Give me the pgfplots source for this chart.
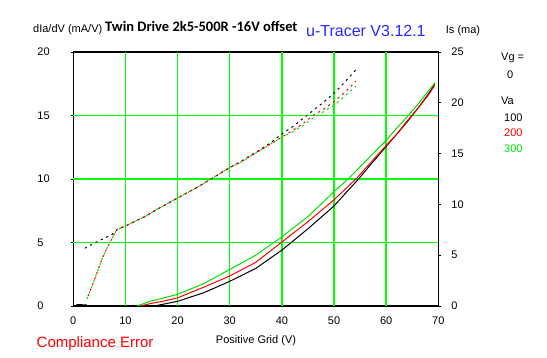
\documentclass[border=0pt]{standalone}
\usepackage{fontspec}
\setmainfont{Liberation Sans}
\newfontfamily\titlefont{Carlito}
\usepackage{pgfplots}
\pgfplotsset{compat=1.18}
\definecolor{cgreen}{RGB}{0,225,0}
\definecolor{gridgreen}{RGB}{0,255,0}
\definecolor{cred}{RGB}{255,0,0}
\definecolor{cblue}{RGB}{40,40,255}
\begin{document}
\begin{tikzpicture}[font=\fontsize{11}{13}\selectfont]
\useasboundingbox (-73.3pt,-51pt) rectangle (473.7pt,306pt);
\begin{axis}[
  scale only axis, width=365pt, height=254pt,
  xmin=0, xmax=70, ymin=0, ymax=20,
  xtick={0,10,...,70}, ytick={0,5,...,20},
  xtick pos=bottom, ytick pos=left,
  extra x ticks={10,20,...,60}, extra x tick labels={},
  extra x tick style={grid=major, major grid style={color=gridgreen, line width=1.5pt}, xtick style={draw=none}},
  extra y ticks={5,10,15}, extra y tick labels={},
  extra y tick style={grid=major, major grid style={color=gridgreen, line width=1.5pt}},
  axis line style={black, line width=1.1pt},
  tick style={black, line width=1pt},
  tick align=outside,
  xtick style={draw=none},
  major tick length=2pt,
  /pgf/number format/assume math mode=true,
  xticklabel style={anchor=center, yshift=-13pt, inner sep=0pt},
  yticklabel style={anchor=west, xshift=-34pt, inner sep=0pt},
  clip=false,
]
% tiny black line near zero
\addplot[black, line width=1pt] coordinates {(0.6,0.12) (2.6,0.08)};
% dIa/dV curves (dashed)
\addplot[black, line width=1pt, dash pattern=on 2.2pt off 3.8pt] coordinates {
(2.2,4.55) (4,4.95) (6,5.35) (7.5,5.65) (8.5,6.05) (10,6.3) (12,6.7) (14,7.1) (16,7.6) (18,8.05) (20,8.5) (22,8.95) (24,9.4) (26,9.9) (28,10.4) (30,10.9) (32,11.35) (34,11.85) (36,12.35) (38,12.9) (40,13.55) (42,14.1) (44,14.75) (46,15.4) (48,16.05) (50,16.75) (52,17.6) (54.2,18.6)};
\addplot[cred, line width=1pt, dash pattern=on 2.2pt off 3.8pt, dash phase=3pt] coordinates {
(2.6,0.55) (4,2.0) (5.5,3.7) (6.5,4.6) (7.4,5.3) (8.3,6.0) (10,6.3) (12,6.7) (14,7.1) (16,7.6) (18,8.05) (20,8.5) (22,8.95) (24,9.4) (26,9.9) (28,10.4) (30,10.9) (32,11.3) (34,11.8) (36,12.3) (38,12.8) (40,13.3) (42,13.8) (44,14.35) (46,15.0) (48,15.5) (50,16.1) (52,16.8) (54.2,17.7)};
\addplot[cgreen, line width=1pt, dash pattern=on 2.2pt off 3.8pt] coordinates {
(2.6,0.55) (4,2.0) (5.5,3.7) (6.5,4.6) (7.4,5.3) (8.3,6.0) (10,6.3) (12,6.7) (14,7.1) (16,7.6) (18,8.05) (20,8.5) (22,8.95) (24,9.4) (26,9.9) (28,10.4) (30,10.9) (32,11.3) (34,11.8) (36,12.3) (38,12.8) (40,13.3) (42,13.7) (44,14.2) (46,14.8) (48,15.3) (50,15.8) (52,16.5) (54.2,17.3)};
\end{axis}
\begin{axis}[
  scale only axis, width=365pt, height=254pt,
  xmin=0, xmax=70, ymin=0, ymax=25,
  ytick={0,5,...,25},
  axis y line*=right, axis x line=none,
  axis line style={black, line width=1.1pt},
  tick style={black, line width=1pt},
  tick align=outside, major tick length=3pt,
  /pgf/number format/assume math mode=true,
  yticklabel style={anchor=west, xshift=10pt, inner sep=0pt},
  clip=false,
]
\addplot[black, line width=1pt] coordinates {
(15.5,0) (17,0.15) (20,0.46) (25,1.3) (30,2.43) (35,3.7) (40,5.5) (45,7.6) (50,9.85) (54.7,12.5) (57,13.9) (60,15.7) (62,16.9) (64,18.1) (66,19.4) (68,20.8) (69.3,21.8)};
\addplot[cred, line width=1pt] coordinates {
(12.8,0) (15,0.26) (17,0.45) (20,0.8) (25,1.85) (30,2.95) (35,4.3) (40,6.3) (45,8.3) (50,10.45) (54.2,12.5) (57,14.1) (60,15.8) (62,16.9) (64,18.2) (66,19.4) (68,20.7) (69.3,21.7)};
\addplot[cgreen, line width=1pt] coordinates {
(12.2,0) (15,0.5) (17,0.75) (20,1.15) (25,2.2) (30,3.6) (35,5.0) (40,6.8) (45,8.8) (50,11.25) (52.7,12.5) (55,13.7) (57.5,15.0) (60,16.3) (62,17.5) (64,18.6) (66,19.8) (68,21.1) (69.4,22.0)};
\end{axis}
% texts (origin = axis lower-left at image px (73.3,306))
\node[anchor=west, inner sep=0pt] at (-40.3pt,276pt) {dIa/dV (mA/V)};
\node[anchor=west, inner sep=0pt] at (31.7pt,280pt) {\titlefont\bfseries\fontsize{14.5}{16}\selectfont Twin Drive 2k5-500R -16V offset};
\node[anchor=west, inner sep=0pt, text=cblue] at (232.7pt,275pt) {\fontsize{16}{18}\selectfont u-Tracer V3.12.1};
\node[anchor=west, inner sep=0pt] at (372.4pt,275pt) {Is (ma)};
\node[anchor=west, inner sep=0pt] at (427.7pt,248pt) {Vg =};
\node[anchor=west, inner sep=0pt] at (433.7pt,231pt) {0};
\node[anchor=west, inner sep=0pt] at (427.7pt,205pt) {Va};
\node[anchor=west, inner sep=0pt] at (430.7pt,188pt) {100};
\node[anchor=west, inner sep=0pt, text=cred] at (430.7pt,173pt) {200};
\node[anchor=west, inner sep=0pt, text=cgreen] at (430.7pt,157pt) {300};
\node[anchor=center, inner sep=0pt] at (182.7pt,-34.8pt) {Positive Grid (V)};
\node[anchor=west, inner sep=0pt, text=cred] at (-36.8pt,-38pt) {\fontsize{15}{17}\selectfont Compliance Error};
\end{tikzpicture}
\end{document}
